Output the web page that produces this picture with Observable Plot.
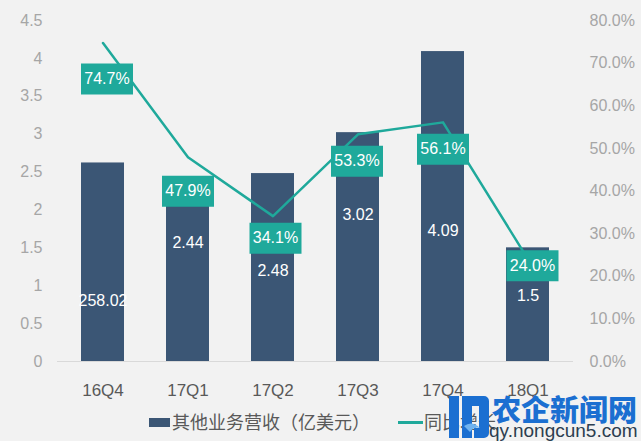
<!DOCTYPE html>
<html><head><meta charset="utf-8">
<script src="https://cdn.jsdelivr.net/npm/d3@7"></script>
<script src="https://cdn.jsdelivr.net/npm/@observablehq/plot@0.6"></script>
<style>
body{margin:0;background:#f2f2f2;width:641px;height:441px;overflow:hidden;position:relative;font-family:"Liberation Sans","Noto Sans CJK SC",sans-serif;}
#chart{position:absolute;left:0;top:0;}
.lg{position:absolute;}
#wm{position:absolute;left:446px;top:392px;width:195px;height:49px;}
</style></head><body>
<div id="chart"></div>
<div class="lg" style="left:149px;top:418px;width:21px;height:9px;background:#3b5675"></div>
<div class="lg" style="left:172px;top:411px;font-size:18px;line-height:24px;color:#595959">其他业务营收（亿美元）</div>
<div class="lg" style="left:398px;top:421px;width:25px;height:3px;background:#1fa99b"></div>
<div class="lg" style="left:424px;top:411px;font-size:18px;line-height:24px;color:#595959">同比增长</div>
<div id="wm">
  <svg width="44" height="49" style="position:absolute;left:0;top:0">
    <path d="M3 4 h10 v42 h-10 z" fill="#1b6fd1"/>
    <path d="M16 4 h22 a5 5 0 0 1 5 5 v32 a5 5 0 0 1 -5 5 h-10 v-10 h5 v-22 h-7 v32 h-10 z" fill="#1b6fd1"/>
    <path d="M18 34 q8 -6 16 2 q-6 -2 -10 4 z" fill="#6fb3f0"/>
  </svg>
  <div style="position:absolute;left:46px;top:0px;font-size:29px;line-height:32px;font-weight:900;color:#1b6fd1;letter-spacing:0px;font-family:'Noto Sans CJK SC',sans-serif">农企新闻网</div>
  <div style="position:absolute;left:43px;top:28px;font-size:19px;line-height:22px;color:#2c3e50;font-family:'Liberation Sans',sans-serif">qy.nongcun5.com</div>
</div>
<script>
const quarters = ["16Q4","17Q1","17Q2","17Q3","17Q4","18Q1"];
const revenue = [2.62, 2.44, 2.48, 3.02, 4.09, 1.5];
const revenueLabels = ["258.02","2.44","2.48","3.02","4.09","1.5"];
const growth = [74.7, 47.9, 34.1, 53.3, 56.1, 24.0];
const leftTicks = [0, 0.5, 1, 1.5, 2, 2.5, 3, 3.5, 4, 4.5];
const rightTicks = [0, 10, 20, 30, 40, 50, 60, 70, 80];

// label nudges (px), as placed in the original
const valueNudge = [39, -26.5, 3, -32.5, 24, -9];
const growthNudge = [[4, 36], [0, 34], [2.5, 22], [-1, 27], [0, 27], [4.5, 6.5]];

const BAR = "#3b5675", TEAL = "#1fa99b";
const Y_MAX = 4.5, P_MAX = 80;
const toY = p => p / P_MAX * Y_MAX;

const rows = quarters.map((q, i) => ({q, v: revenue[i], label: revenueLabels[i], g: growth[i]}));

const boxSymbol = {draw(ctx) { ctx.rect(-26, -15.5, 52, 31); }};

const chart = Plot.plot({
  width: 641, height: 405,
  marginLeft: 57, marginRight: 68, marginTop: 20, marginBottom: 44,
  style: {background: "transparent", fontFamily: "'Liberation Sans','Noto Sans CJK SC',sans-serif"},
  x: {domain: quarters, paddingInner: 0.49, paddingOuter: 0.25, label: null},
  y: {domain: [0, Y_MAX], label: null},
  marks: [
    Plot.axisX({tickSize: 0, tickPadding: 22, fontSize: 17, color: "#595959", label: null}),
    Plot.axisY(leftTicks, {anchor: "left", tickSize: 0, tickPadding: 15, fontSize: 16, color: "#a6a6a6", tickFormat: d => String(d), label: null}),
    Plot.axisY(rightTicks.map(toY), {anchor: "right", tickSize: 0, tickPadding: 16, fontSize: 16, color: "#a6a6a6",
      tickFormat: v => (Math.round(v * P_MAX / Y_MAX * 10) / 10).toFixed(1) + "%", label: null}),
    Plot.ruleY([0], {stroke: "#d9d9d9"}),
    Plot.barY(rows, {x: "q", y: "v", fill: BAR}),
    Plot.line(rows, {x: "q", y: d => toY(d.g), stroke: TEAL, strokeWidth: 2.5}),
    ...rows.map((r, i) => Plot.text([r], {x: "q", y: d => d.v / 2, text: "label", fill: "white", fontSize: 16, dy: valueNudge[i]})),
    ...rows.map((r, i) => Plot.dot([r], {x: "q", y: d => toY(d.g), symbol: boxSymbol, r: 5, fill: TEAL, stroke: "none", dx: growthNudge[i][0], dy: growthNudge[i][1]})),
    ...rows.map((r, i) => Plot.text([r], {x: "q", y: d => toY(d.g), text: d => d.g.toFixed(1) + "%", fill: "white", fontSize: 16, dx: growthNudge[i][0], dy: growthNudge[i][1]}))
  ]
});
document.getElementById("chart").appendChild(chart);
</script>
</body></html>
